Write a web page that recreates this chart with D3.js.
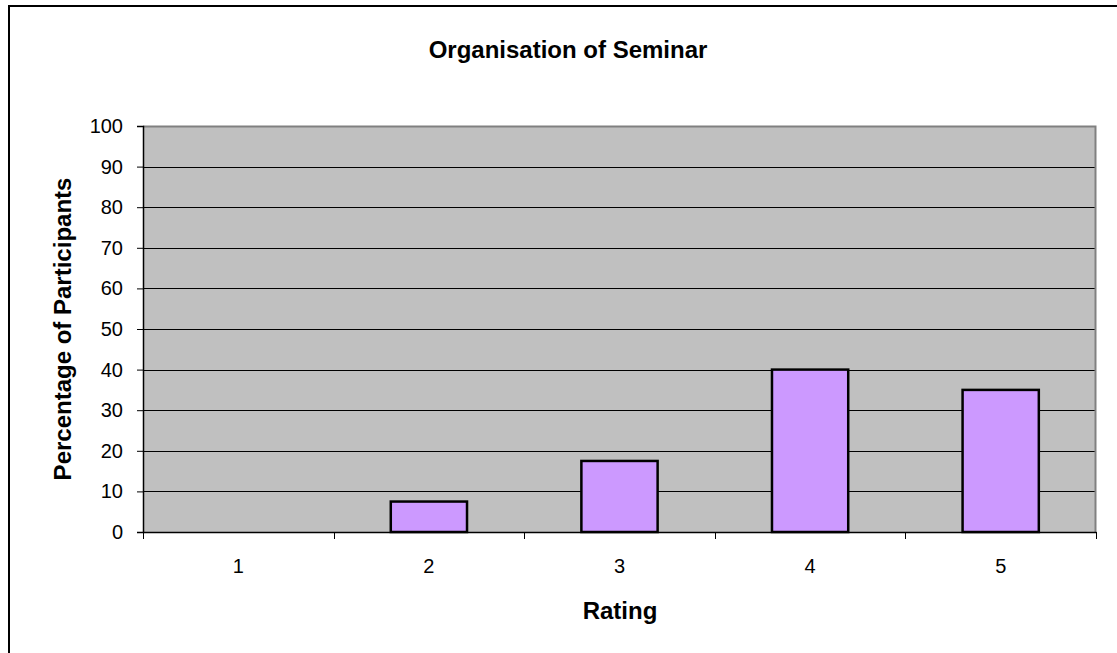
<!DOCTYPE html>
<html>
<head>
<meta charset="utf-8">
<script src="https://cdn.jsdelivr.net/npm/d3@7"></script>
<style>
body { margin: 0; background: #ffffff; }
svg text { font-family: "Liberation Sans", Arial, sans-serif; fill: #000; }
</style>
</head>
<body>
<div id="chart"></div>
<script>
// chart data
var ratings = ["1", "2", "3", "4", "5"];
var percentages = [0, 7.5, 17.5, 40, 35];
var yTicks = [0, 10, 20, 30, 40, 50, 60, 70, 80, 90, 100];

var width = 1117, height = 653;
var margin = {left: 143, top: 126, right: 1117 - 1096, bottom: 653 - 532};
var plotW = width - margin.left - margin.right;
var plotH = height - margin.top - margin.bottom;

var svg = d3.select("#chart")
	.append("svg")
	.attr("width", width)
	.attr("height", height);

//outer frame
svg.append("rect")
	.attr("x", 9).attr("y", 6)
	.attr("width", width + 10).attr("height", height + 10)
	.attr("fill", "none")
	.attr("stroke", "#000")
	.attr("stroke-width", 2);

var g = svg.append("g")
	.attr("transform", "translate(" + margin.left + "," + margin.top + ")");

var x = d3.scaleBand()
	.domain(ratings)
	.range([0, plotW])
	.paddingInner(0.6)
	.paddingOuter(0.3);

var xEdges = d3.scaleLinear().domain([0, ratings.length]).range([0, plotW]);

var y = d3.scaleLinear()
	.domain([0, 100])
	.range([plotH, 0]);

//plot background
g.append("rect")
	.attr("width", plotW)
	.attr("height", plotH)
	.attr("fill", "#c0c0c0");

//gridlines
g.selectAll("line.grid")
	.data(yTicks.filter(function(d){ return d > 0 && d < 100; }))
	.enter()
	.append("line")
	.attr("class", "grid")
	.attr("x1", 0).attr("x2", plotW)
	.attr("y1", function(d){ return Math.round(y(d)) + 0.5; })
	.attr("y2", function(d){ return Math.round(y(d)) + 0.5; })
	.attr("stroke", "#000")
	.attr("stroke-width", 1);

//plot border top/right
g.append("path")
	.attr("d", "M0,0.5H" + (plotW - 0.5) + "V" + plotH)
	.attr("fill", "none")
	.attr("stroke", "#808080")
	.attr("stroke-width", 2);

//bars
g.selectAll("rect.bar")
	.data(percentages)
	.enter()
	.append("rect")
	.attr("class", "bar")
	.attr("x", function(d, i){ return x(ratings[i]); })
	.attr("width", x.bandwidth())
	.attr("y", function(d){ return y(d); })
	.attr("height", function(d){ return plotH - y(d); })
	.attr("display", function(d){ return d > 0 ? null : "none"; })
	.attr("fill", "#cc99ff")
	.attr("stroke", "#000")
	.attr("stroke-width", 2.5);

//y axis
var yAxis = g.append("g")
	.call(d3.axisLeft(y).tickValues(yTicks).tickSize(6).tickPadding(14));
yAxis.select(".domain").attr("stroke", "#000").attr("stroke-width", 1.5);
yAxis.selectAll(".tick line").attr("stroke", "#000");
yAxis.selectAll("text").style("font-size", "20px");

//x axis
var xAxis = g.append("g")
	.attr("transform", "translate(0," + plotH + ")")
	.call(d3.axisBottom(x).tickSize(0).tickPadding(27));
xAxis.select(".domain").attr("stroke", "#000").attr("stroke-width", 1.5);
xAxis.selectAll("text").style("font-size", "20px");

//x tick marks at category boundaries
xAxis.selectAll("line.edge")
	.data(d3.range(ratings.length + 1))
	.enter()
	.append("line")
	.attr("class", "edge")
	.attr("x1", function(d){ return Math.round(xEdges(d)) + 0.5; })
	.attr("x2", function(d){ return Math.round(xEdges(d)) + 0.5; })
	.attr("y1", 0).attr("y2", 7)
	.attr("stroke", "#000");

//titles
svg.append("text")
	.attr("x", 568).attr("y", 58)
	.attr("text-anchor", "middle")
	.style("font-size", "24px")
	.style("font-weight", "bold")
	.text("Organisation of Seminar");

svg.append("text")
	.attr("x", 620).attr("y", 619)
	.attr("text-anchor", "middle")
	.style("font-size", "24px")
	.style("font-weight", "bold")
	.text("Rating");

svg.append("text")
	.attr("transform", "translate(71," + (margin.top + plotH / 2) + ") rotate(-90)")
	.attr("text-anchor", "middle")
	.style("font-size", "24px")
	.style("font-weight", "bold")
	.text("Percentage of Participants");
</script>
</body>
</html>
